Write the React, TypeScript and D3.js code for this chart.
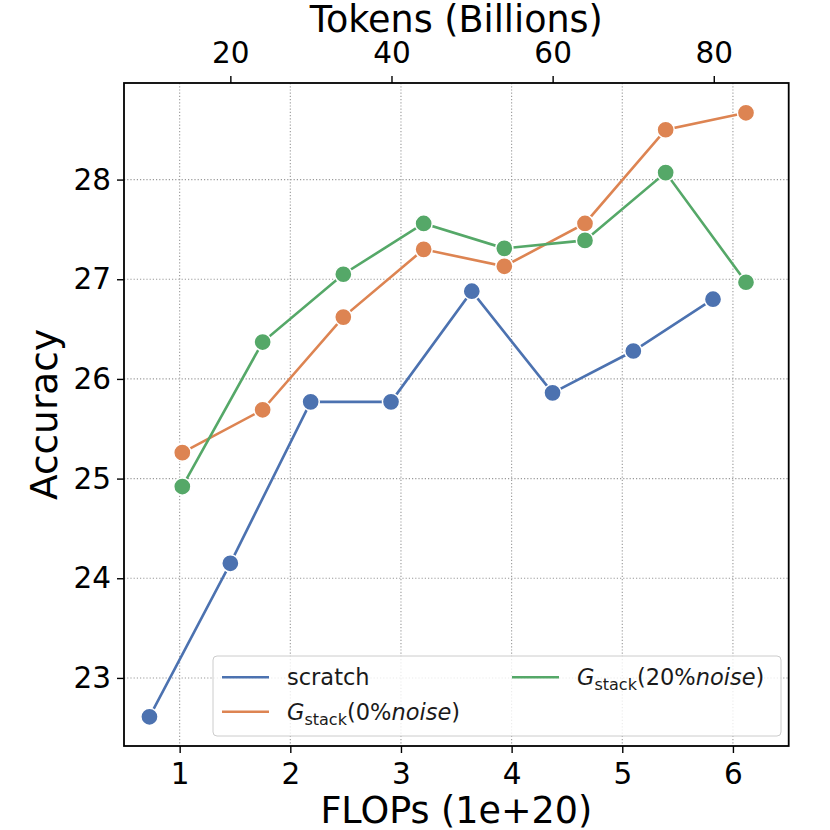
import { select, scaleLinear, axisBottom, axisLeft, axisTop, line } from 'd3';
import { useEffect, useRef } from 'react';

// values
const scratchFlops = [0.727, 1.458, 2.184, 2.91, 3.64, 4.37, 5.1, 5.82];
const scratchAcc = [22.61, 24.15, 25.77, 25.77, 26.88, 25.86, 26.28, 26.8];
const stackFlops = [1.024, 1.75, 2.479, 3.205, 3.934, 4.663, 5.392, 6.118];
const stack0Acc = [25.26, 25.69, 26.62, 27.3, 27.13, 27.56, 28.5, 28.67];
const stack20Acc = [24.92, 26.37, 27.05, 27.56, 27.31, 27.39, 28.07, 26.97];

const flopTicks = [1, 2, 3, 4, 5, 6];
const tokenTicks = [20, 40, 60, 80];
const accTicks = [23, 24, 25, 26, 27, 28];

const BLUE = '#4C72B0';
const ORANGE = '#DD8452';
const GREEN = '#55A868';
const FONT = '"DejaVu Sans", sans-serif';

export default function App() {
  const svgRef = useRef<SVGSVGElement>(null);

  useEffect(() => {
    if (svgRef.current == null) return;
    const svg = select(svgRef.current);
    svg.selectAll('*').remove();

    const left = 124, right = 788.7, top = 83, bottom = 746;
    const x = scaleLinear().domain([0.497, 6.504]).range([left, right]);
    const xTok = scaleLinear().domain([6.8, 89.3]).range([left, right]);
    const y = scaleLinear().domain([22.317, 28.969]).range([bottom, top]);

    svg.append('rect').attr('width', 830).attr('height', 830).attr('fill', 'white');

    // grid
    const grid = svg.append('g');
    grid.selectAll('.gx').data(flopTicks).enter().append('line')
      .attr('x1', d => x(d)).attr('x2', d => x(d))
      .attr('y1', top).attr('y2', bottom);
    grid.selectAll('.gy').data(accTicks).enter().append('line')
      .attr('x1', left).attr('x2', right)
      .attr('y1', d => y(d)).attr('y2', d => y(d));
    grid.selectAll('line')
      .attr('stroke', '#999999')
      .attr('stroke-width', 1.1)
      .attr('stroke-dasharray', '1.2,2');

    const series = [
      { flops: scratchFlops, acc: scratchAcc, color: BLUE },
      { flops: stackFlops, acc: stack0Acc, color: ORANGE },
      { flops: stackFlops, acc: stack20Acc, color: GREEN },
    ];

    series.forEach(s => {
      const pts: Array<[number, number]> = s.flops.map((f, i) => [x(f), y(s.acc[i])]);
      svg.append('path')
        .datum(pts)
        .attr('fill', 'none')
        .attr('stroke', s.color)
        .attr('stroke-width', 2.6)
        .attr('d', line());
      svg.append('g').selectAll('circle').data(pts).enter().append('circle')
        .attr('cx', d => d[0]).attr('cy', d => d[1])
        .attr('r', 8.6)
        .attr('fill', s.color)
        .attr('stroke', 'white')
        .attr('stroke-width', 1.5);
    });

    // legend
    const lg = svg.append('g');
    lg.append('rect')
      .attr('x', 213).attr('y', 656).attr('width', 568).attr('height', 80)
      .attr('rx', 4)
      .attr('fill', 'white').attr('fill-opacity', 0.8)
      .attr('stroke', '#cccccc').attr('stroke-width', 1);
    const entries = [
      { color: BLUE, lx: 222, ty: 677.3, label: 'scratch' },
      { color: ORANGE, lx: 222, ty: 711.7, label: '0%' },
      { color: GREEN, lx: 512, ty: 677.3, label: '20%' },
    ];
    entries.forEach(e => {
      lg.append('line')
        .attr('x1', e.lx).attr('x2', e.lx + 47)
        .attr('y1', e.ty).attr('y2', e.ty)
        .attr('stroke', e.color).attr('stroke-width', 2.6);
      const t = lg.append('text')
        .attr('x', e.lx + 65).attr('y', e.ty + 8)
        .attr('font-family', FONT).attr('font-size', 22.5).attr('fill', '#1a1a1a');
      if (e.label === 'scratch') {
        t.text('scratch');
      } else {
        t.append('tspan').attr('font-style', 'italic').text('G');
        t.append('tspan').attr('font-size', 16).attr('dy', 5).text('stack');
        t.append('tspan').attr('dy', -5).text('(' + e.label);
        t.append('tspan').attr('font-style', 'italic').text('noise');
        t.append('tspan').text(')');
      }
    });

    // frame
    svg.append('rect')
      .attr('x', left).attr('y', top)
      .attr('width', right - left).attr('height', bottom - top)
      .attr('fill', 'none').attr('stroke', 'black').attr('stroke-width', 1.8);

    const styleAxis = (g: any, size: number) => {
      g.select('.domain').remove();
      g.selectAll('.tick line').attr('stroke', 'black').attr('stroke-width', 1.4);
      g.selectAll('.tick text').attr('font-family', FONT).attr('font-size', size).attr('fill', 'black');
    };

    const gb = svg.append('g').attr('transform', `translate(0,${bottom})`)
      .call(axisBottom(x).tickValues(flopTicks).tickSize(7).tickPadding(10).tickFormat(d => `${d}`));
    styleAxis(gb, 29.5);

    const gt = svg.append('g').attr('transform', `translate(0,${top})`)
      .call(axisTop(xTok).tickValues(tokenTicks).tickSize(7).tickPadding(13).tickFormat(d => `${d}`));
    styleAxis(gt, 29.5);

    const gl = svg.append('g').attr('transform', `translate(${left},0)`)
      .call(axisLeft(y).tickValues(accTicks).tickSize(7).tickPadding(6).tickFormat(d => `${d}`));
    styleAxis(gl, 29.5);

    svg.append('text')
      .attr('x', (left + right) / 2).attr('y', 823)
      .attr('text-anchor', 'middle')
      .attr('font-family', FONT).attr('font-size', 36.5)
      .text('FLOPs (1e+20)');

    svg.append('text')
      .attr('x', (left + right) / 2).attr('y', 32)
      .attr('text-anchor', 'middle')
      .attr('font-family', FONT).attr('font-size', 36.5)
      .text('Tokens (Billions)');

    svg.append('text')
      .attr('transform', `translate(57,${(top + bottom) / 2}) rotate(-90)`)
      .attr('text-anchor', 'middle')
      .attr('font-family', FONT).attr('font-size', 37.5)
      .text('Accuracy');
  }, []);

  return (
    <svg ref={svgRef} width={830} height={830}
      style={{ position: 'absolute', left: 0, top: 0 }} />
  );
}
